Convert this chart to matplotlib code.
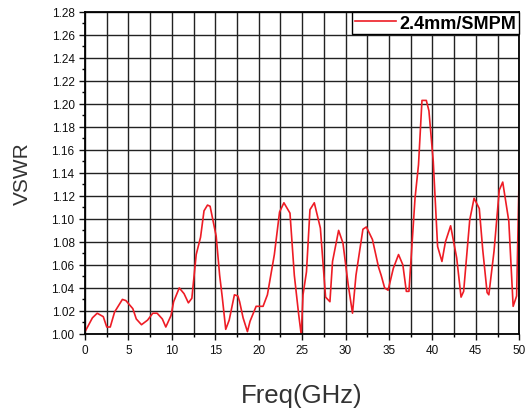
import matplotlib
matplotlib.use("Agg")
import matplotlib.pyplot as plt
from matplotlib.ticker import MultipleLocator

plt.rcParams['font.family'] = ['Liberation Sans', 'DejaVu Sans']

# values
freq = [0, 0.85, 1.4, 2.1, 2.5, 2.9, 3.4, 4.3, 4.7, 5.5, 5.9, 6.5, 7.2, 7.8, 8.3,
        8.9, 9.3, 9.9, 10.2, 10.85, 11.4, 11.9, 12.3, 12.8, 13.3, 13.7, 14.1, 14.4,
        15.1, 15.5, 15.8, 16.2, 16.6, 17.2, 17.6, 17.8, 18.2, 18.7, 19.0, 19.7, 20.5,
        21.0, 21.8, 22.4, 22.9, 23.6, 24.1, 24.6, 24.9, 25.1, 25.5, 25.9, 26.4, 27.1,
        27.7, 28.2, 28.5, 29.2, 29.7, 30.3, 30.8, 31.2, 32.0, 32.4, 33.1, 33.8, 34.1,
        34.5, 34.9, 35.5, 36.1, 36.6, 37.0, 37.3, 38.0, 38.4, 38.8, 39.3, 39.6, 40.1,
        40.6, 41.1, 41.5, 42.1, 42.8, 43.3, 43.6, 44.3, 44.8, 45.4, 45.8, 46.3, 46.5,
        47.1, 47.7, 48.1, 48.8, 49.3, 49.7, 50.0]
vswr = [1.002, 1.014, 1.018, 1.015, 1.006, 1.006, 1.019, 1.030, 1.029, 1.022, 1.013,
        1.008, 1.012, 1.018, 1.018, 1.013, 1.006, 1.016, 1.028, 1.040, 1.035, 1.027,
        1.031, 1.069, 1.084, 1.107, 1.112, 1.111, 1.085, 1.051, 1.032, 1.004, 1.012,
        1.034, 1.033, 1.028, 1.014, 1.002, 1.011, 1.024, 1.024, 1.034, 1.069, 1.106,
        1.114, 1.105, 1.051, 1.017, 0.999, 1.034, 1.054, 1.108, 1.114, 1.092, 1.032,
        1.028, 1.063, 1.090, 1.079, 1.043, 1.018, 1.051, 1.091, 1.093, 1.082, 1.058,
        1.051, 1.040, 1.038, 1.057, 1.069, 1.060, 1.037, 1.037, 1.118, 1.147, 1.203,
        1.203, 1.194, 1.150, 1.076, 1.063, 1.080, 1.094, 1.066, 1.032, 1.037, 1.099,
        1.118, 1.109, 1.073, 1.036, 1.034, 1.072, 1.125, 1.132, 1.098, 1.024, 1.033,
        1.142]

fig = plt.figure(figsize=(5.25, 4.14), dpi=100)
ax = fig.add_axes([0.162, 0.191, 0.827, 0.778])

ax.plot(freq, vswr, color="#ee1c25", linewidth=1.2, label="2.4mm/SMPM")
ax.set_xlim(0, 50)
ax.set_ylim(1.00, 1.28)

ax.xaxis.set_major_locator(MultipleLocator(5))
ax.xaxis.set_minor_locator(MultipleLocator(2.5))
ax.yaxis.set_major_locator(MultipleLocator(0.02))
ax.yaxis.set_minor_locator(MultipleLocator(0.01))
ax.yaxis.set_major_formatter(matplotlib.ticker.FormatStrFormatter("%.2f"))

ax.grid(which="major", axis="y", color="#222222", linewidth=1.0)
ax.grid(which="both", axis="x", color="#222222", linewidth=1.0)
ax.tick_params(which="major", direction="out", length=4, width=1, labelsize=8.5, colors="#111111")
ax.tick_params(which="minor", direction="out", length=2.5, width=1)
ax.tick_params(axis="x", pad=3)
for s in ax.spines.values():
    s.set_linewidth(1.3)

ax.set_xlabel("Freq(GHz)", fontsize=18.5, color="#333333", labelpad=20)
ax.set_ylabel("VSWR", fontsize=15, color="#333333", labelpad=14)

leg = ax.legend(loc="upper right", borderaxespad=0, fancybox=False, framealpha=1,
                edgecolor="black", handlelength=2.3, handletextpad=0.2,
                borderpad=0.15, prop={"weight": "bold", "size": 13})
leg.get_frame().set_linewidth(1.0)

fig.savefig("out.png", dpi=100)
